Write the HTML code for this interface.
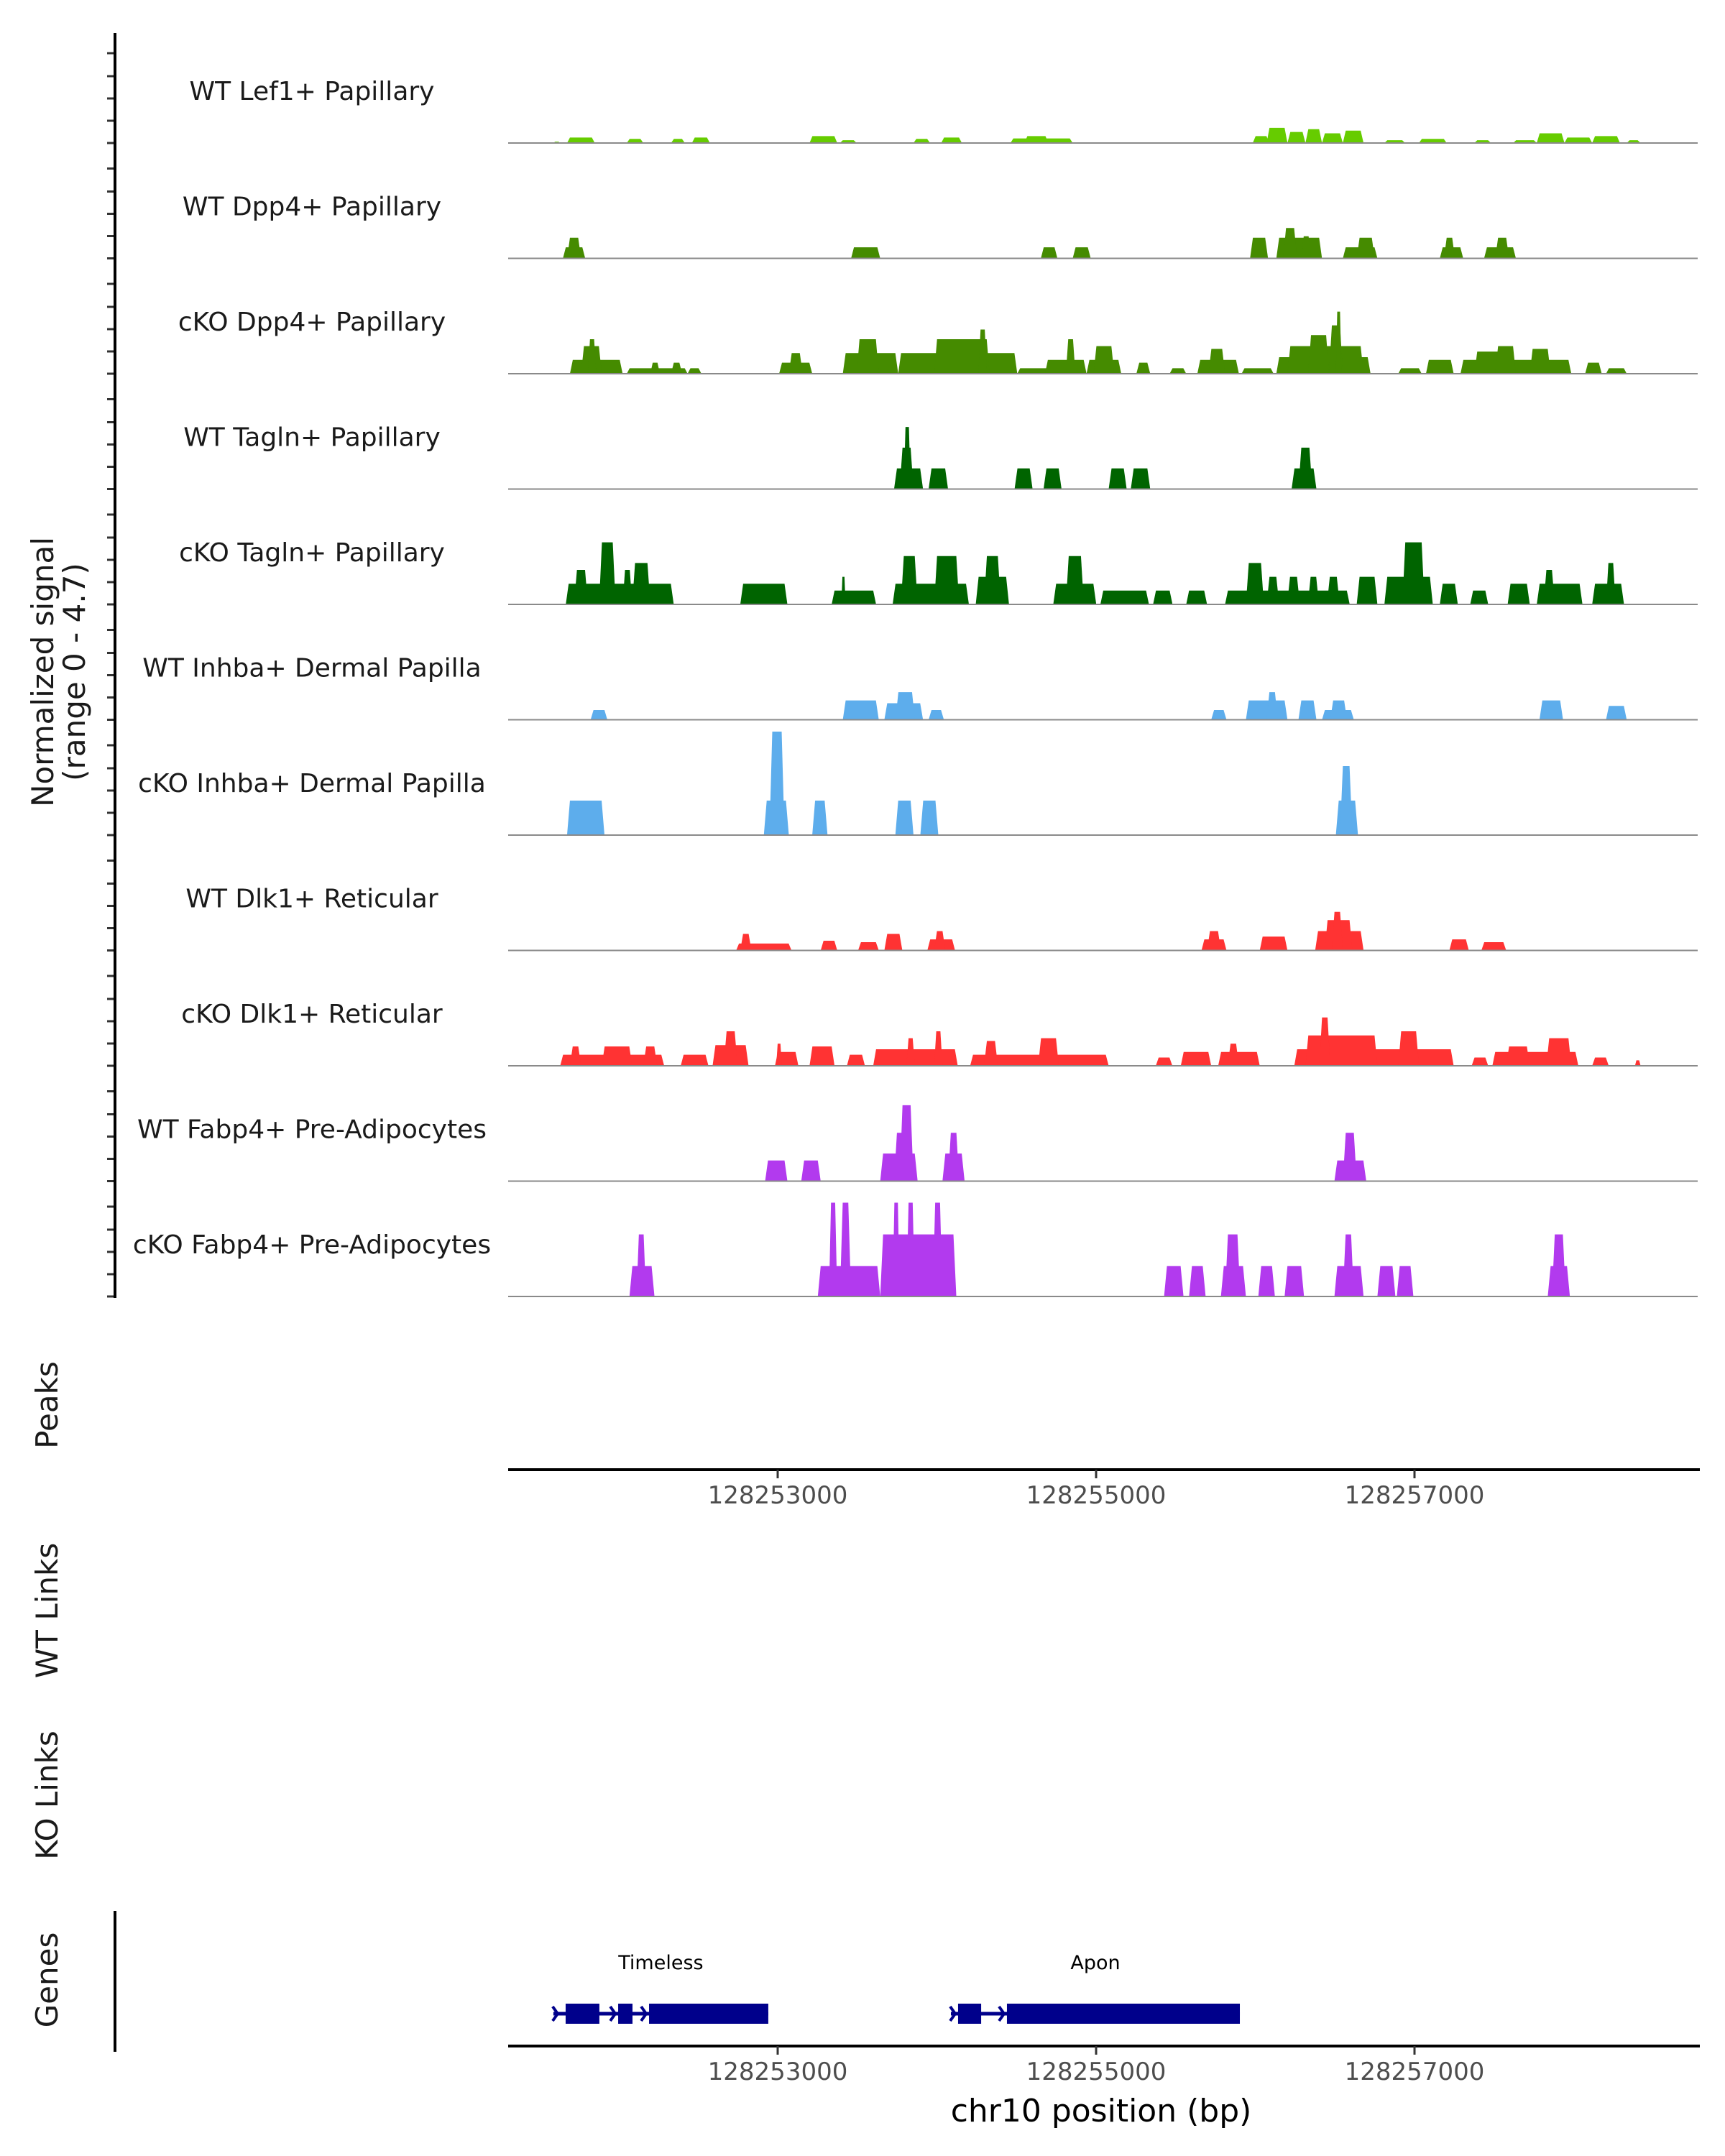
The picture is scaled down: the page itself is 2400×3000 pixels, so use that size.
<!DOCTYPE html>
<html><head><meta charset="utf-8">
<style>
html,body{margin:0;padding:0;background:#fff;}
svg{display:block;font-family:"DejaVu Sans","Liberation Sans",sans-serif;}
</style></head>
<body>
<svg id="chart" width="2400" height="3000" viewBox="0 0 2400 3000" xmlns="http://www.w3.org/2000/svg">
<rect x="0" y="0" width="2400" height="3000" fill="#fff"/>
<g id="tracks"></g>
<g id="axes"></g>
<g id="genes"></g>
</svg>
<script>
// ---- data (positions in bp relative to 128250000, values = normalized signal) ----
const trackNames = ["WT Lef1+ Papillary","WT Dpp4+ Papillary","cKO Dpp4+ Papillary","WT Tagln+ Papillary","cKO Tagln+ Papillary","WT Inhba+ Dermal Papilla","cKO Inhba+ Dermal Papilla","WT Dlk1+ Reticular","cKO Dlk1+ Reticular","WT Fabp4+ Pre-Adipocytes","cKO Fabp4+ Pre-Adipocytes"];
const trackColors = ["#66CC00","#458B00","#458B00","#006400","#006400","#5DADEC","#5DADEC","#FF3333","#FF3333","#B23AEE","#B23AEE"];
const wtLef1 = [[1591,1634,.06],[1677,1851,.24],[2052,2156,.18],[2330,2417,.18],[2461,2574,.24],[3200,3374,.3],[3391,3496,.12],[3853,3957,.18],[4027,4157,.24],[4462,4853,.2],[4550,4700,.3],[5984,6088,.3],[6071,6202,.66],[6202,6315,.48],[6315,6419,.6],[6419,6550,.42],[6550,6680,.54],[6811,6941,.12],[7028,7202,.18],[7376,7480,.12],[7620,7768,.12],[7768,7942,.42],[7942,8116,.24],[8116,8290,.3],[8333,8420,.12]];
const wtDpp4 = [[1651,1791,.48],[1677,1765,.9],[3461,3644,.48],[4653,4757,.48],[4853,4966,.48],[5967,6080,.9],[6132,6419,.9],[6175,6262,1.32],[6289,6350,.96],[6550,6767,.48],[6637,6750,.9],[7159,7306,.48],[7185,7254,.9],[7437,7637,.48],[7507,7594,.9]];
const koDpp4 = [[1695,2026,.6],[1765,1895,1.2],[1808,1860,1.5],[2052,2434,.24],[2200,2260,.48],[2330,2400,.48],[2434,2521,.24],[3009,3217,.48],[3070,3157,.9],[3409,3757,.9],[3496,3635,1.5],[3757,4505,.9],[3983,4331,1.5],[4261,4314,1.92],[4505,4766,.24],[4679,4940,.6],[4810,4870,1.5],[4940,5158,.6],[4984,5114,1.2],[5253,5340,.48],[5462,5566,.24],[5636,5897,.6],[5706,5810,1.08],[5914,6115,.24],[6132,6724,.72],[6202,6680,1.2],[6332,6463,1.68],[6463,6550,2.1],[6506,6541,2.7],[6898,7045,.24],[7072,7246,.6],[7289,7985,.6],[7376,7637,.96],[7507,7637,1.2],[7724,7855,1.08],[8072,8176,.48],[8203,8333,.24]];
const wtTagln = [[3731,3913,.9],[3766,3853,1.8],[3792,3835,2.7],[3948,4070,.9],[4488,4601,.9],[4670,4783,.9],[5079,5192,.9],[5218,5340,.9],[6228,6384,.9],[6271,6358,1.8]];
const koTagln = [[1669,2347,.9],[1721,1808,1.5],[1878,1982,2.7],[2026,2086,1.5],[2086,2200,1.8],[2765,3061,.9],[3339,3618,.6],[3400,3426,1.2],[3722,4201,.9],[3774,3879,2.1],[3983,4140,2.1],[4244,4453,1.2],[4296,4401,2.1],[4731,5001,.9],[4810,4923,2.1],[5027,5332,.6],[5358,5480,.6],[5566,5697,.6],[5810,6593,.6],[5941,6054,1.8],[6071,6150,1.2],[6200,6280,1.2],[6330,6400,1.2],[6450,6530,1.2],[6637,6767,1.2],[6811,7115,1.2],[6924,7063,2.7],[7159,7272,.9],[7350,7463,.6],[7585,7724,.9],[7768,8055,.9],[7811,7881,1.5],[8116,8316,.9],[8203,8263,1.8]];
const wtInhba = [[1825,1930,.42],[3409,3635,.84],[3670,3913,.72],[3740,3862,1.2],[3948,4044,.42],[5723,5819,.42],[5941,6202,.84],[6071,6141,1.2],[6271,6384,.84],[6419,6619,.42],[6471,6576,.84],[7785,7933,.84],[8203,8333,.6]];
const koInhba = [[1677,1912,1.5],[2913,3070,1.5],[2948,3043,4.5],[3217,3313,1.5],[3739,3853,1.5],[3896,4009,1.5],[6506,6645,1.5],[6532,6610,3.0]];
const wtDlk1 = [[2739,3087,.3],[2765,2835,.72],[3270,3374,.42],[3505,3635,.36],[3670,3783,.72],[3940,4114,.48],[3983,4053,.84],[5662,5819,.48],[5697,5784,.84],[6028,6202,.6],[6376,6680,.84],[6436,6610,1.32],[6480,6550,1.68],[7219,7341,.48],[7420,7576,.36]];
const koDlk1 = [[1634,2287,.48],[1695,1765,.84],[1895,2086,.84],[2156,2243,.84],[2391,2565,.48],[2591,2817,.9],[2661,2748,1.5],[2983,3130,.6],[2991,3026,.96],[3200,3357,.84],[3435,3548,.48],[3600,4131,.72],[3809,3861,1.2],[3983,4035,1.5],[4209,5079,.48],[4296,4383,1.08],[4636,4766,1.2],[5375,5479,.36],[5532,5723,.6],[5767,6028,.6],[5827,5897,.96],[6245,7246,.72],[6315,6767,1.32],[6402,6471,2.1],[6898,7028,1.5],[7359,7463,.36],[7489,8029,.6],[7576,7724,.84],[7828,7985,1.2],[8116,8220,.36],[8385,8420,.24]];
const wtFabp4 = [[2921,3061,.9],[3148,3270,.9],[3644,3879,1.2],[3731,3835,2.1],[3766,3853,3.3],[4035,4174,1.2],[4070,4140,2.1],[6497,6697,.9],[6550,6637,2.1]];
const koFabp4 = [[2069,2226,1.32],[2113,2173,2.7],[3252,3644,1.32],[3322,3374,4.08],[3391,3461,4.08],[3644,4122,2.7],[3722,3766,4.08],[3809,3861,4.08],[3974,4035,4.08],[5427,5549,1.32],[5584,5688,1.32],[5784,5941,1.32],[5810,5906,2.7],[6019,6123,1.32],[6184,6306,1.32],[6497,6680,1.32],[6550,6619,2.7],[6767,6880,1.32],[6889,6993,1.32],[7837,7976,1.32],[7863,7950,2.7]];
const trackData = [wtLef1,wtDpp4,koDpp4,wtTagln,koTagln,wtInhba,koInhba,wtDlk1,koDlk1,wtFabp4,koFabp4];
const xTicks = [3000,5000,7000];
const xTickLabels = ["128253000","128255000","128257000"];
const geneNames = ["Timeless","Apon"];
const geneSpans = [[1591,2941],[4088,5903]];
const geneExons = [[[1668,1880],[1998,2088],[2192,2941]],[[4133,4278],[4440,5903]]];

// ---- scales ----
const NS="http://www.w3.org/2000/svg";
const PX0=707, PX1=2362;
function xs(b){return 1082+(b-3000)*0.2215;}
function ys(v){return v*32;}
const base0=199, step=160.5;
function mk(tag,attrs,parent){const e=document.createElementNS(NS,tag);for(const k in attrs)e.setAttribute(k,attrs[k]);parent.appendChild(e);return e;}
const T=document.getElementById('tracks'),A=document.getElementById('axes'),G=document.getElementById('genes');

trackData.forEach((segs,i)=>{
  const by=base0+i*step;
  const g=mk('g',{},T);
  
  
  segs.forEach(s=>{
    const x1=xs(s[0]),x2=xs(s[1]),h=ys(s[2]);
    const sl=Math.min(4,(x2-x1)/4);
    const p=mk('polygon',{points:`${x1},${by} ${x1+sl},${by-h} ${x2-sl},${by-h} ${x2},${by}`,fill:trackColors[i]},g);
    
    
  });
  const bl=mk('line',{x1:PX0,x2:PX1,y1:by,y2:by,stroke:'#8a8a8a','stroke-width':2},g);
  
  
  const t=mk('text',{x:434,y:by-60,'text-anchor':'middle','font-size':36,fill:'#1a1a1a'},g);
  t.textContent=trackNames[i];
  
  
  [0,31,62,93,125].forEach(o=>{
    const tk=mk('line',{x1:149,x2:160,y1:by-o,y2:by-o,stroke:'#333','stroke-width':3},A);
    
    
  });
});
// left y axis line
let ax=mk('line',{x1:160,x2:160,y1:46,y2:1806,stroke:'#000','stroke-width':4},A);


// y title
let yt=mk('text',{transform:'translate(80,935) rotate(-90)','text-anchor':'middle','font-size':42,fill:'#1a1a1a'},A);


const ts1=mk('tspan',{x:0,dy:-6},yt);ts1.textContent='Normalized signal';
const ts2=mk('tspan',{x:0,dy:44},yt);ts2.textContent='(range 0 - 4.7)';

// side titles
[["Peaks",1955,'peaks-title'],["WT Links",2241,'wt-links-title'],["KO Links",2498,'ko-links-title'],["Genes",2755,'genes-title']].forEach(s=>{
  const t=mk('text',{transform:`translate(80,${s[1]}) rotate(-90)`,'text-anchor':'middle','font-size':42,fill:'#1a1a1a'},A);
  t.textContent=s[0];
  
  
});

// x axes
function xAxis(y,name){
  const l=mk('line',{x1:PX0,x2:PX1+3,y1:y,y2:y,stroke:'#000','stroke-width':4},A);
  
  
  xTicks.forEach((b,k)=>{
    const tk=mk('line',{x1:xs(b),x2:xs(b),y1:y,y2:y+12,stroke:'#333','stroke-width':3},A);
    
    
    const tl=mk('text',{x:xs(b),y:y+47,'text-anchor':'middle','font-size':34,fill:'#4d4d4d'},A);
    tl.textContent=xTickLabels[k];
    
    
  });
}
xAxis(2045,'peaks-x-axis');
xAxis(2847,'genes-x-axis');
let xt=mk('text',{x:1532,y:2952,'text-anchor':'middle','font-size':44,fill:'#000'},A);
xt.textContent='chr10 position (bp)';


let ga=mk('line',{x1:160,x2:160,y1:2659,y2:2855,stroke:'#000','stroke-width':4},A);



// genes
const gy=2802;
geneNames.forEach((n,i)=>{
  const g=mk('g',{},G);
  
  
  const sp=geneSpans[i];
  mk('line',{x1:xs(sp[0]),x2:xs(sp[1]),y1:gy,y2:gy,stroke:'#00008B','stroke-width':5},g);
  const ex=geneExons[i];
  // chevron at start and between exons
  const cx=[xs(sp[0])+4];
  for(let k=0;k<ex.length-1;k++){cx.push(xs(ex[k+1][0])-6);}
  cx.forEach(c=>{
    const ch=mk('polyline',{points:`${c-5},${gy-10} ${c+2},${gy} ${c-5},${gy+10}`,fill:'none',stroke:'#00008B','stroke-width':4},g);
    
    
  });
  ex.forEach(e=>{
    const r=mk('rect',{x:xs(e[0]),y:gy-14,width:xs(e[1])-xs(e[0]),height:28,fill:'#00008B'},g);
    
    
  });
  const t=mk('text',{x:(xs(sp[0])+xs(sp[1]))/2,y:2740,'text-anchor':'middle','font-size':27,fill:'#000'},g);
  t.textContent=n;
  
  
});
</script>
</body></html>
